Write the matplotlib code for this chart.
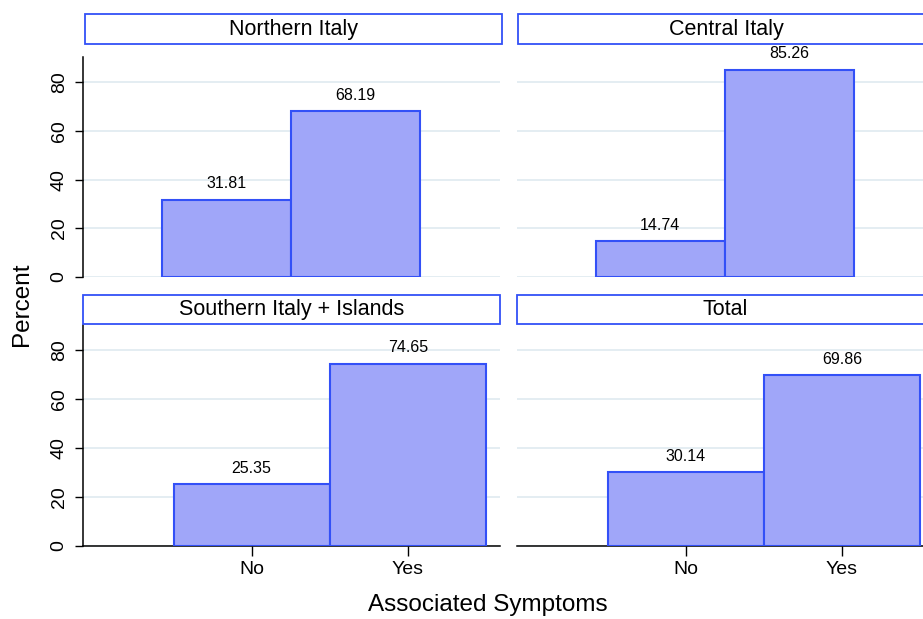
"""Percentuale di sintomi associati per area geografica (grafico a pannelli)."""

import matplotlib

matplotlib.use("Agg")
import matplotlib.pyplot as plt
from matplotlib.patches import Rectangle

plt.rcParams["font.family"] = ["Liberation Sans", "DejaVu Sans"]

# dati
regioni = ["Northern Italy", "Central Italy", "Southern Italy + Islands", "Total"]
pct_no = [31.81, 14.74, 25.35, 30.14]
pct_si = [68.19, 85.26, 74.65, 69.86]
categorie = ["No", "Yes"]
tick_y = [0, 20, 40, 60, 80]

W, H = 923, 619
FILL = "#a0a6f9"
EDGE = "#3350f7"
GRID = "#e2ecf1"


def px_box(left, top, right, bottom):
    """Converte un riquadro in pixel (origine in alto) in coordinate figura."""
    return [left / W, (H - bottom) / H, (right - left) / W, (bottom - top) / H]


fig = plt.figure(figsize=(W / 100, H / 100), dpi=100)

# (riquadro assi, riquadro intestazione, riga, colonna)
pannelli = [
    ((83, 57, 500, 277), (85, 14, 502, 44), 0, 0),
    ((517, 57, 934, 277), (518, 14, 935, 44), 0, 1),
    ((83, 325, 500, 546), (83, 295, 500, 324), 1, 0),
    ((517, 325, 934, 546), (517, 295, 934, 324), 1, 1),
]

for i, (box, head, riga, col) in enumerate(pannelli):
    ax = fig.add_axes(px_box(*box))
    valori = [pct_no[i], pct_si[i]]
    ax.bar([0, 1], valori, width=1.0, color=FILL, edgecolor=EDGE,
           linewidth=1.5, zorder=3)
    for x, v in zip([0, 1], valori):
        ax.annotate(f"{v:.2f}", (x, v), xytext=(0, 6), textcoords="offset points",
                    ha="center", va="bottom", fontsize=11.5, zorder=4)

    ax.set_ylim(0, 90.4)
    ax.set_yticks(tick_y)
    ax.grid(axis="y", color=GRID, linewidth=1.3, zorder=0)
    ax.set_axisbelow(True)
    for s in ["top", "right"]:
        ax.spines[s].set_visible(False)

    if col == 0:
        ax.spines["left"].set_linewidth(1.1)
        ax.tick_params(axis="y", length=6, width=1.0, pad=5, labelsize=14)
        for lab in ax.get_yticklabels():
            lab.set_rotation(90)
            lab.set_va("center")
    else:
        ax.spines["left"].set_visible(False)
        ax.tick_params(axis="y", length=0, labelleft=False)

    if riga == 0:
        ax.set_xlim(-1.11, 2.12)
        ax.spines["bottom"].set_visible(False)
        ax.set_xticks([])
    else:
        ax.set_xlim(-1.08, 1.59)
        ax.spines["bottom"].set_linewidth(1.1)
        ax.set_xticks([0, 1])
        ax.set_xticklabels(categorie)
        ax.tick_params(axis="x", length=7, width=1.0, pad=4, labelsize=14)

    # intestazione del pannello
    hb = px_box(*head)
    fig.patches.append(Rectangle((hb[0], hb[1]), hb[2], hb[3], transform=fig.transFigure,
                                 facecolor="white", edgecolor=EDGE, linewidth=1.3))
    fig.text(hb[0] + hb[2] / 2, hb[1] + hb[3] / 2, regioni[i], ha="center",
             va="center", fontsize=15.5)

fig.text(22 / W, 1 - 304 / H, "Percent", rotation=90, ha="center", va="center",
         fontsize=17.5)
fig.text(488 / W, 1 - 605 / H, "Associated Symptoms", ha="center", va="center",
         fontsize=17.5)

fig.savefig("out.png", dpi=100)
